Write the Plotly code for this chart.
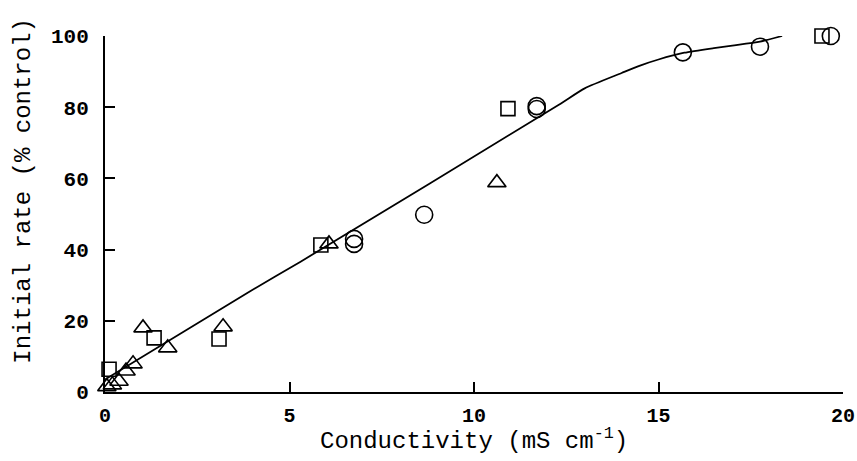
import plotly.graph_objects as go

# Data
circle_x = [6.75, 6.75, 8.65, 11.7, 11.7, 15.66, 17.75, 19.67]
circle_y = [41.6, 43.0, 49.8, 79.5, 80.3, 95.4, 97.0, 100.0]

square_x = [0.11, 1.33, 3.09, 5.85, 10.92, 19.43]
square_y = [6.4, 15.2, 14.9, 41.3, 79.6, 100.0]

triangle_x = [0.05, 0.2, 0.38, 0.57, 0.76, 1.03, 1.7, 3.2, 6.07, 10.62]
triangle_y = [1.5, 2.0, 3.0, 5.9, 7.9, 18.0, 12.4, 18.3, 41.6, 58.8]

line_x = [0.0, 3.9, 5.3, 12.3, 13.0, 14.0, 14.5, 15.0, 15.7, 16.5, 17.0, 17.75, 18.35]
line_y = [3.5, 28.1, 36.6, 80.7, 85.3, 89.6, 91.7, 93.4, 95.3, 96.6, 97.3, 98.4, 100.0]

x_ticks = [0, 5, 10, 15, 20]
y_ticks = [0, 20, 40, 60, 80, 100]

x_title = "Conductivity (mS cm<sup>-1</sup>)"
y_title = "Initial rate (% control)"

FONT = "Liberation Mono"

fig = go.Figure()
fig.add_trace(go.Scatter(x=line_x, y=line_y, mode="lines",
                         line=dict(color="black", width=1.8, shape="spline", smoothing=0.6),
                         showlegend=False, hoverinfo="skip"))
fig.add_trace(go.Scatter(x=circle_x, y=circle_y, mode="markers",
                         marker=dict(symbol="circle-open", size=17, color="black",
                                     line=dict(width=1.6, color="black")),
                         showlegend=False, cliponaxis=False))
fig.add_trace(go.Scatter(x=square_x, y=square_y, mode="markers",
                         marker=dict(symbol="square-open", size=14, color="black",
                                     line=dict(width=1.6, color="black")),
                         showlegend=False, cliponaxis=False))
fig.add_trace(go.Scatter(x=triangle_x, y=triangle_y, mode="markers",
                         marker=dict(symbol="triangle-up-open", size=16, color="black",
                                     line=dict(width=1.6, color="black")),
                         showlegend=False, cliponaxis=False))

fig.update_layout(
    width=857, height=461,
    margin=dict(l=105, r=14, t=36, b=69),
    paper_bgcolor="white", plot_bgcolor="white",
    font=dict(family=FONT, color="black"),
    annotations=[
        dict(text=x_title, xref="paper", yref="paper", x=0.5, y=-0.133,
             xanchor="center", yanchor="middle", showarrow=False,
             font=dict(family=FONT, size=24, color="black")),
        dict(text=y_title, xref="paper", yref="paper", x=-0.11, y=0.565,
             xanchor="center", yanchor="middle", showarrow=False, textangle=-90,
             font=dict(family=FONT, size=24, color="black")),
    ],
)
fig.update_xaxes(
    range=[0, 20], tickvals=x_ticks, ticktext=[str(v) for v in x_ticks],
    showgrid=False, zeroline=False, showline=True, linecolor="black", linewidth=2,
    ticks="inside", ticklen=10, tickwidth=1.5, tickcolor="black",
    tickfont=dict(family=FONT, size=20, color="black", weight="bold"),
    ticklabelstandoff=4, automargin=False,
)
fig.update_yaxes(
    range=[0, 100], tickvals=y_ticks, ticktext=[str(v) for v in y_ticks],
    showgrid=False, zeroline=False, showline=True, linecolor="black", linewidth=2,
    ticks="inside", ticklen=10, tickwidth=1.5, tickcolor="black",
    tickfont=dict(family=FONT, size=21, color="black", weight="bold"),
    ticklabelstandoff=10, automargin=False,
)

fig.write_html("out.html")
